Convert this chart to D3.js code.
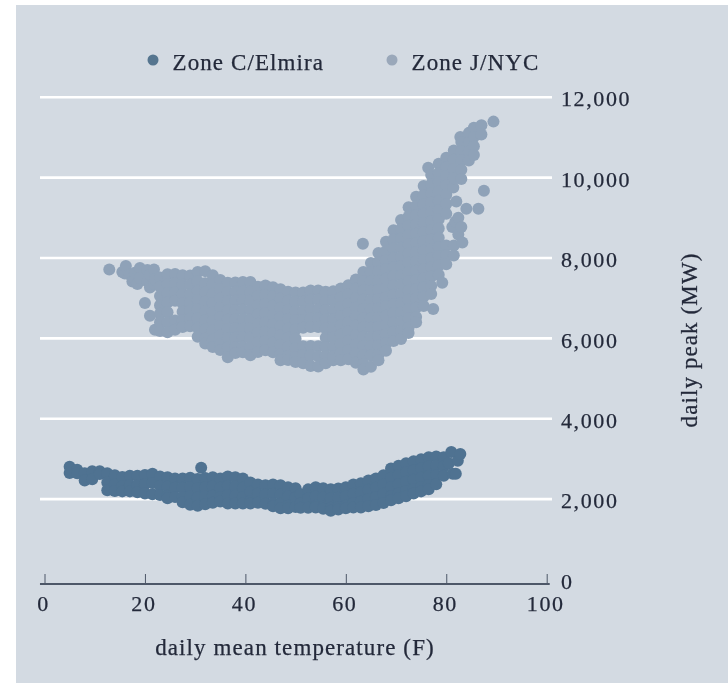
<!DOCTYPE html>
<html lang="en">
<head>
  <meta charset="UTF-8">
  <title>Daily peak vs temperature</title>
  <script src="https://d3js.org/d3.v7.min.js"></script>
  <style>
    body { margin: 0; background: #fff; }
    svg { display: block; filter: blur(0.4px); }
    text { font-family: "Liberation Serif", serif; fill: #23293a; stroke: #23293a; stroke-width: 0.25px; }
  </style>
</head>
<body>
  <div id="chart"></div>
  <script>
    const xTicks = [0, 20, 40, 60, 80, 100];
    const yTicks = [0, 2000, 4000, 6000, 8000, 10000, 12000];
    const legendLabels = ["Zone C/Elmira", "Zone J/NYC"];

    // column by column: [temperature, peaks at that temperature]
    const elmiraColumns = [
      [5, [2790, 2640]], [6.5, [2720, 2630]], [8, [2630, 2450]], [9.5, [2680, 2480]], [11, [2680, 2610]],
      [12.5, [2630, 2400, 2210]], [14, [2580, 2350, 2190]], [15.5, [2540, 2310, 2180]], [17, [2570, 2340, 2180]],
      [18.5, [2570, 2340, 2160]], [20, [2590, 2360, 2130]], [21.5, [2620, 2390, 2110]], [23, [2550, 2320, 2090]],
      [24.5, [2530, 2300, 2070, 2010]], [26, [2500, 2270, 2040]], [27.5, [2500, 2270, 2040, 1910]],
      [29, [2520, 2290, 2060, 1850]], [30.5, [2490, 2260, 2030, 1820]], [31.2, [2770]], [32, [2510, 2280, 2050, 1860]],
      [33.5, [2530, 2300, 2070, 1900]], [35, [2500, 2270, 2040, 1930]], [36.5, [2550, 2320, 2090, 1880]],
      [38, [2530, 2300, 2070, 1880]], [39.5, [2500, 2270, 2040, 1880]], [41, [2400, 2170, 1940, 1880]],
      [42.5, [2350, 2120, 1900]], [44, [2330, 2100, 1870]], [45.5, [2350, 2120, 1890, 1810]],
      [47, [2330, 2100, 1870, 1760]], [48.5, [2280, 2050, 1820, 1760]], [50, [2260, 2030, 1790]],
      [51, [2110, 1880, 1770]], [52.5, [2230, 2000, 1770]], [54, [2280, 2050, 1820, 1780]],
      [55.5, [2260, 2030, 1800, 1750]], [57, [2230, 2000, 1770, 1700]], [58.5, [2250, 2020, 1790, 1730]],
      [60, [2280, 2050, 1820, 1760]], [61.5, [2350, 2120, 1890, 1780]], [63, [2380, 2150, 1920, 1780]],
      [64.5, [2450, 2220, 1990, 1810]], [66, [2500, 2270, 2040, 1840]], [67.5, [2580, 2350, 2120, 1890]],
      [69, [2750, 2520, 2290, 2060, 1960]], [70.5, [2820, 2590, 2360, 2130, 2010]], [72, [2880, 2650, 2420, 2190, 2060]],
      [73.5, [2930, 2700, 2470, 2240, 2130]], [75, [2980, 2750, 2520, 2290, 2180]], [76.5, [3030, 2800, 2570, 2340, 2230]],
      [78, [3050, 2820, 2590, 2360]], [79.5, [3030, 2800, 2570]], [80.5, [2880]],
      [81, [3160]], [81.3, [2620]], [81.9, [2620]], [82.3, [2940]], [82.8, [3110]]
    ];

    const nycColumns = [
      [12.9, [7700]], [15.5, [7640]], [16, [7600]], [16.2, [7790]], [17, [7570]], [17.5, [7400]], [18, [7620, 7450]], [18.5, [7340]],
      [19, [7740, 7490]], [20, [6870]], [20.5, [7690, 7400]], [21, [7570, 7250, 6550]], [21.8, [7700, 7350]], [22, [7450, 6200]],
      [23, [7500, 7270, 7040, 6810, 6600, 6390, 6170]],
      [24.5, [7580, 7340, 7110, 6880, 6640, 6390, 6140]],
      [26, [7590, 7360, 7130, 6920, 6430, 6200]],
      [27.5, [7560, 7320, 7090, 6860, 6650, 6440, 6270]],
      [29, [7550, 7320, 7090, 6880, 6680, 6480, 6290]],
      [30.5, [7640, 7400, 7170, 6940, 6710, 6480, 6250, 6030]],
      [32, [7660, 7360, 7130, 6900, 6670, 6440, 6210, 5980, 5860]],
      [33.5, [7560, 7330, 7100, 6870, 6640, 6410, 6180, 5950, 5770]],
      [35, [7440, 7210, 6980, 6750, 6520, 6290, 6060, 5840, 5700]],
      [36.5, [7370, 7140, 6910, 6680, 6450, 6220, 5990, 5760, 5520]],
      [38, [7380, 7150, 6920, 6690, 6460, 6230, 6000, 5770, 5620]],
      [39.5, [7390, 7160, 6930, 6700, 6470, 6240, 6010, 5780, 5640]],
      [41, [7390, 7150, 6920, 6690, 6460, 6230, 6000, 5770, 5570]],
      [42.5, [7270, 7040, 6810, 6580, 6350, 6120, 5890, 5650]],
      [44, [7300, 7070, 6840, 6610, 6380, 6150, 5920, 5690]],
      [45.5, [7260, 7030, 6800, 6570, 6340, 6110, 5880, 5640]],
      [47, [7210, 6980, 6750, 6520, 6290, 6060, 5830, 5600, 5440]],
      [48.5, [7150, 6920, 6690, 6460, 6230, 6000, 5770, 5540, 5450]],
      [50, [7130, 6900, 6670, 6440, 6210, 5980, 5750, 5520, 5400]],
      [51.5, [7130, 6900, 6670, 6440, 6250, 5790, 5570, 5370]],
      [53, [7180, 6950, 6720, 6490, 6270, 5800, 5560, 5300]],
      [54.5, [7180, 6950, 6720, 6490, 6270, 5790, 5540, 5290]],
      [56, [7150, 6920, 6690, 6460, 6230, 6000, 5770, 5540, 5370]],
      [57.5, [7160, 6930, 6700, 6470, 6240, 6010, 5780, 5550, 5440]],
      [59, [7230, 7000, 6770, 6540, 6310, 6080, 5850, 5620, 5440]],
      [60.5, [7310, 7080, 6850, 6620, 6390, 6160, 5930, 5700, 5470]],
      [62, [7450, 7220, 6990, 6760, 6530, 6300, 6070, 5840, 5610, 5380]],
      [63.4, [8340]],
      [63.5, [7640, 7410, 7180, 6950, 6720, 6490, 6260, 6030, 5800, 5570, 5350, 5210]],
      [65, [7860, 7630, 7400, 7170, 6940, 6710, 6480, 6250, 6020, 5790, 5560, 5280]],
      [66.5, [8110, 7880, 7650, 7420, 7190, 6960, 6730, 6500, 6270, 6040, 5810, 5580, 5440]],
      [68, [8390, 8160, 7930, 7700, 7470, 7240, 7010, 6780, 6550, 6320, 6090, 5860, 5680]],
      [69.5, [8680, 8450, 8220, 7990, 7760, 7530, 7300, 7070, 6840, 6610, 6380, 6150, 5920]],
      [71, [8930, 8700, 8470, 8240, 8010, 7780, 7550, 7320, 7090, 6860, 6630, 6400, 6170, 5970]],
      [72.5, [9250, 9020, 8790, 8560, 8330, 8100, 7870, 7640, 7410, 7180, 6950, 6720, 6490, 6260, 6120]],
      [74, [9510, 9280, 9050, 8820, 8590, 8360, 8130, 7900, 7670, 7440, 7210, 6980, 6750, 6520, 6390]],
      [75.5, [9780, 9550, 9320, 9090, 8860, 8630, 8400, 8170, 7940, 7710, 7480, 7250, 7020, 6790]],
      [76.4, [10230]],
      [77, [10050, 9820, 9590, 9360, 9130, 8900, 8670, 8440, 8210, 7980, 7750, 7520, 7290, 7090]],
      [77.4, [6720]],
      [78.5, [10330, 10100, 9870, 9640, 9410, 9180, 8950, 8720, 8490, 8260, 8030, 7800, 7570]],
      [79.2, [7370]],
      [80, [10480, 10250, 10020, 9790, 9560, 9330, 9090, 8300, 8060, 7830]],
      [81.2, [8760]], [81.4, [9740]],
      [81.5, [10660, 10430, 10200, 9970, 8300, 8050]],
      [81.8, [8890]], [82, [9390]], [82.4, [8990, 8570]], [82.8, [11000]],
      [83, [10870, 10640, 10410, 10180, 9950, 8760]], [83.2, [8370]], [84, [9210]],
      [84.5, [11100, 10870, 10640, 10410]], [85.5, [11230, 11000, 10770, 10550]],
      [86.4, [9210]], [87, [11290, 11060]], [87.5, [9660]], [89.4, [11380]]
    ];

    const width = 728, height = 683;
    const svg = d3.select("#chart").append("svg").attr("width", width).attr("height", height);

    svg.append("rect")
      .attr("x", 16).attr("y", 5)
      .attr("width", width - 16).attr("height", height - 5)
      .attr("fill", "#d3dae2");

    const x = d3.scaleLinear().domain([0, 100]).range([44.5, 546.7]);
    const y = d3.scaleLinear().domain([0, 12000]).range([579, 96.7]);

    // y axis: ticks on the right, stretched left to be the white gridlines
    const yAxis = svg.append("g")
      .attr("transform", "translate(552,0)")
      .call(d3.axisRight(y).tickValues(yTicks).tickSize(-512).tickPadding(9).tickFormat(d3.format(",")));
    yAxis.select(".domain").remove();
    yAxis.selectAll(".tick line").attr("stroke", "#fff").attr("stroke-width", 2.6).attr("x2", -512);
    yAxis.selectAll(".tick").filter(d => d === 0).select("line").remove();
    yAxis.selectAll(".tick text")
      .attr("x", 9).attr("dy", "0.42em")
      .style("font-size", "22px").style("letter-spacing", "1.6px");

    // points
    const flatten = cols => cols.flatMap(([t, peaks]) => peaks.map(p => [t, p]));
    const drawPoints = (data, fill, r) => svg.append("g").selectAll("circle")
      .data(flatten(data))
      .enter()
      .append("circle")
      .attr("cx", d => x(d[0]))
      .attr("cy", d => y(d[1]))
      .attr("r", r)
      .attr("fill", fill);
    drawPoints(nycColumns, "#8fa2b8", 6);
    drawPoints(elmiraColumns, "#4f7291", 6);

    // x axis sits a little below y = 0, ticks point up
    const xAxis = svg.append("g")
      .attr("transform", "translate(0,584)")
      .call(d3.axisBottom(x).tickValues(xTicks).tickSize(-10).tickSizeOuter(0).tickFormat(d3.format("d")));
    xAxis.select(".domain").remove();
    xAxis.append("line")
      .attr("x1", x(-0.9)).attr("x2", x(100.6))
      .attr("stroke", "#4d5768").attr("stroke-width", 1.8);
    xAxis.selectAll(".tick line").attr("stroke", "#4d5768").attr("stroke-width", 1);
    xAxis.selectAll(".tick text")
      .attr("y", 27).attr("dy", 0).attr("dx", -1.5)
      .style("font-size", "22px").style("letter-spacing", "1.6px");

    // legend
    const legendX = [153, 392];
    const legendFill = ["#55758f", "#9aa8ba"];
    const legend = svg.append("g").selectAll("g")
      .data(legendLabels)
      .enter()
      .append("g")
      .attr("transform", (d, i) => `translate(${legendX[i]},60)`);
    legend.append("circle").attr("r", 5.5).attr("fill", (d, i) => legendFill[i]);
    legend.append("text")
      .attr("x", 19.5).attr("y", 10)
      .style("font-size", "23px").style("letter-spacing", "1.1px")
      .text(d => d);

    // axis titles
    svg.append("text")
      .attr("x", 295).attr("y", 655)
      .attr("text-anchor", "middle")
      .style("font-size", "23px").style("letter-spacing", "1.1px")
      .text("daily mean temperature (F)");
    svg.append("text")
      .attr("transform", "translate(697,340) rotate(-90)")
      .attr("text-anchor", "middle")
      .style("font-size", "23px").style("letter-spacing", "1.1px")
      .text("daily peak (MW)");
  </script>
</body>
</html>
